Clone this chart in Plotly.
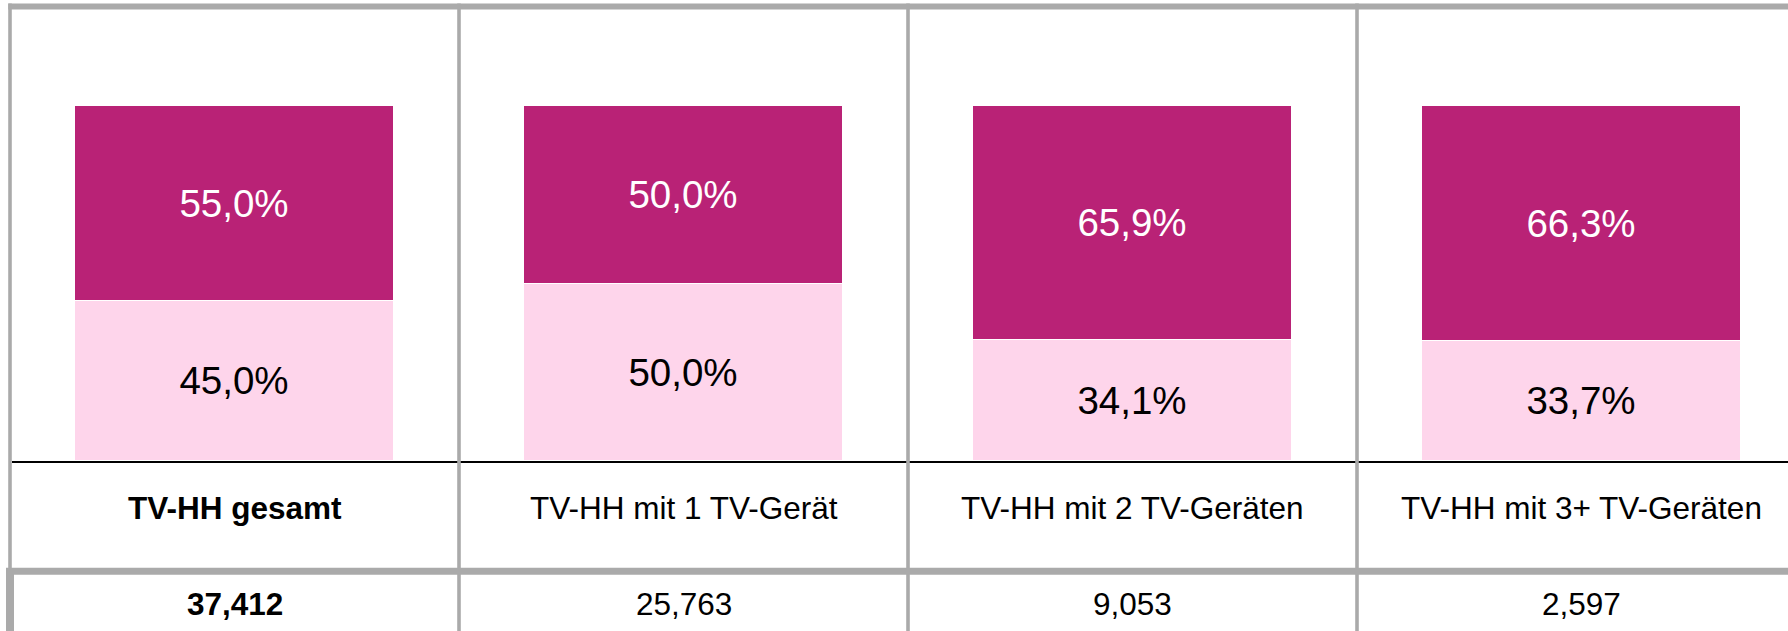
import plotly.graph_objects as go

# ---- data ----
categories = ["TV-HH gesamt", "TV-HH mit 1 TV-Gerät", "TV-HH mit 2 TV-Geräten", "TV-HH mit 3+ TV-Geräten"]
share_low = [45.0, 50.0, 34.1, 33.7]     # light pink segment (bottom)
share_high = [55.0, 50.0, 65.9, 66.3]    # dark magenta segment (top)
households = [37412, 25763, 9053, 2597]  # table row below the chart
bold_first = True

# ---- style / layout constants ----
W, H = 1788, 631
T, B = 106, 170                 # plot area: top at 106px, bottom at 461px
PLOT_BOTTOM = H - B
PLOT_H = H - T - B
CELL_PX = 449.0                 # width of one category cell in px
X0_PX = 234.5                   # pixel centre of first category
DARK = "#B92276"
LIGHT = "#FED5EB"
GRID = "#AAAAAA"
FONT = "Arial, Liberation Sans, sans-serif"

def py(pix):
    """pixel row -> paper y"""
    return (PLOT_BOTTOM - pix) / PLOT_H

def dx(pix):
    """pixel column -> x data"""
    return (pix - X0_PX) / CELL_PX

xs = list(range(len(categories)))

fig = go.Figure()
fig.add_trace(go.Bar(
    x=xs, y=share_low, width=0.711,
    marker=dict(color=LIGHT, line=dict(color="white", width=1)),
    texttemplate="%{y:.1f}%", textposition="inside", insidetextanchor="middle",
    textfont=dict(color="black", size=38.5, family=FONT),
    hoverinfo="skip", showlegend=False,
))
fig.add_trace(go.Bar(
    x=xs, y=share_high, width=0.711,
    marker=dict(color=DARK, line=dict(color="white", width=1)),
    texttemplate="%{y:.1f}%", textposition="inside", insidetextanchor="middle",
    textfont=dict(color="white", size=38.5, family=FONT),
    hoverinfo="skip", showlegend=False,
))

shapes = []
# black baseline
shapes.append(dict(type="line", xref="x", yref="paper", x0=dx(12), x1=dx(W + 5),
                   y0=py(462), y1=py(462), line=dict(color="black", width=2), layer="above"))
# top border
shapes.append(dict(type="line", xref="x", yref="paper", x0=dx(8.3), x1=dx(W + 5),
                   y0=py(6.4), y1=py(6.4), line=dict(color=GRID, width=6), layer="above"))
# thick separator above number row
shapes.append(dict(type="line", xref="x", yref="paper", x0=dx(6), x1=dx(W + 5),
                   y0=py(571.3), y1=py(571.3), line=dict(color=GRID, width=7), layer="above"))
# left border (upper part, thin)
shapes.append(dict(type="line", xref="x", yref="paper", x0=-0.5, x1=-0.5,
                   y0=py(3.4), y1=py(571), line=dict(color=GRID, width=3.6), layer="above"))
# left border (number row, thick)
shapes.append(dict(type="line", xref="x", yref="paper", x0=dx(10), x1=dx(10),
                   y0=py(568), y1=py(H + 5), line=dict(color=GRID, width=8), layer="above"))
# cell dividers
for i in range(len(categories) - 1):
    shapes.append(dict(type="line", xref="x", yref="paper", x0=i + 0.5, x1=i + 0.5,
                       y0=py(3.4), y1=py(H + 5), line=dict(color=GRID, width=3.6), layer="above"))

annotations = []
for i, (cat, n) in enumerate(zip(categories, households)):
    lab = f"<b>{cat}</b>" if (i == 0 and bold_first) else cat
    num = f"{n:,}"
    num = f"<b>{num}</b>" if (i == 0 and bold_first) else num
    annotations.append(dict(x=i, y=py(508), xref="x", yref="paper", text=lab,
                            showarrow=False, xanchor="center", yanchor="middle",
                            font=dict(size=31.5, color="black", family=FONT)))
    annotations.append(dict(x=i, y=py(603.5), xref="x", yref="paper", text=num,
                            showarrow=False, xanchor="center", yanchor="middle",
                            font=dict(size=31.5, color="black", family=FONT)))

fig.update_layout(
    width=W, height=H,
    margin=dict(l=0, r=0, t=T, b=B, pad=0),
    paper_bgcolor="white", plot_bgcolor="white",
    barmode="stack", bargap=0,
    separators=",.",
    xaxis=dict(range=[dx(0), dx(W)], visible=False, fixedrange=True),
    yaxis=dict(range=[0, 100], visible=False, fixedrange=True),
    shapes=shapes, annotations=annotations,
    uniformtext=dict(mode=False),
    showlegend=False,
)

fig.write_html(
    "out.html",
    config={"displayModeBar": False},
    post_script="document.body.style.margin='0';document.body.style.overflow='hidden';",
)
